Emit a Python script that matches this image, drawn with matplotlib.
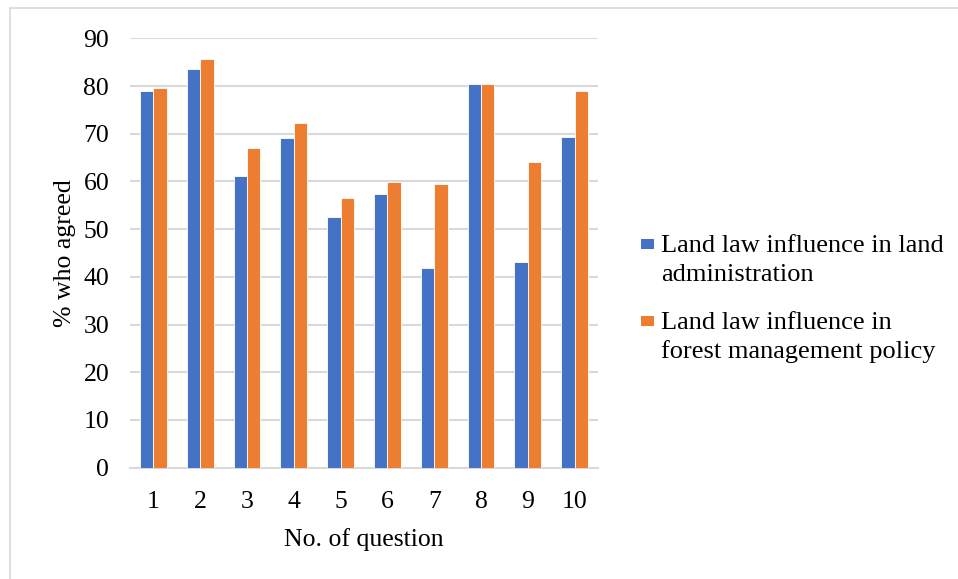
import matplotlib
matplotlib.use("Agg")
import matplotlib.pyplot as plt
import numpy as np
from matplotlib.lines import Line2D
from matplotlib.patches import Rectangle

questions = ["1", "2", "3", "4", "5", "6", "7", "8", "9", "10"]
land_admin = [79.0, 83.6, 61.2, 69.2, 52.5, 57.3, 41.8, 80.4, 43.2, 69.3]
forest_policy = [79.6, 85.6, 66.9, 72.2, 56.5, 59.9, 59.5, 80.4, 64.1, 79.0]
series_names = [["Land law influence in land", "administration"],
                ["Land law influence in", "forest management policy"]]
y_ticks = [0, 10, 20, 30, 40, 50, 60, 70, 80, 90]

plt.rcParams["font.family"] = ["Liberation Serif", "DejaVu Serif"]

fig = plt.figure(figsize=(9.58, 5.79), dpi=100)
W, H = 958, 579
ax = fig.add_axes([130 / W, (H - 467.6) / H, 468 / W, (467.6 - 38.3) / H])

# chart frame: left and top edges
frame_kw = dict(transform=fig.transFigure, color="#d9d9d9", linewidth=1.2)
fig.add_artist(Line2D([10 / W, 10 / W], [0, (H - 8) / H], **frame_kw))
fig.add_artist(Line2D([10 / W, 1], [(H - 8) / H, (H - 8) / H], **frame_kw))

x = np.arange(len(questions))
bw = 0.285
blue = "#4472c4"
orange = "#ed7d31"
colors = [blue, orange]
ax.bar(x - bw / 2, land_admin, width=bw, color=blue, edgecolor="white",
       linewidth=0.6, zorder=3)
ax.bar(x + bw / 2, forest_policy, width=bw, color=orange, edgecolor="white",
       linewidth=0.6, zorder=3)

ax.set_xlim(-0.5, len(questions) - 0.5)
ax.set_ylim(0, 90)
ax.set_yticks(y_ticks)
ax.set_xticks(x)
ax.set_xticklabels(questions)
ax.yaxis.grid(True, color="#d9d9d9", linewidth=1.5, zorder=0)
ax.set_axisbelow(True)
for s in ["top", "right", "left"]:
    ax.spines[s].set_visible(False)
ax.spines["bottom"].set_color("#d9d9d9")
ax.spines["bottom"].set_linewidth(1.5)
ax.tick_params(axis="both", length=0, labelsize=18.5, colors="black")
ax.tick_params(axis="y", pad=15)
ax.tick_params(axis="x", pad=17)
ax.set_ylabel("% who agreed", fontsize=18.5, labelpad=5)
ax.set_xlabel("No. of question", fontsize=18.5, labelpad=11)

# legend: square key aligned with the first line of each two-line label
entry_tops = [238.5, 315.5]
line_gap = 29.5
for color, lines, top in zip(colors, series_names, entry_tops):
    fig.patches.append(Rectangle((641 / W, (H - top - 10.5) / H), 13 / W, 10.5 / H,
                                 transform=fig.transFigure, facecolor=color,
                                 edgecolor="none"))
    base = top + 13.2
    for i, line in enumerate(lines):
        fig.text(661 / W, (H - base - i * line_gap) / H, line, fontsize=19,
                 va="baseline", ha="left")

fig.savefig("out.png", dpi=100)
